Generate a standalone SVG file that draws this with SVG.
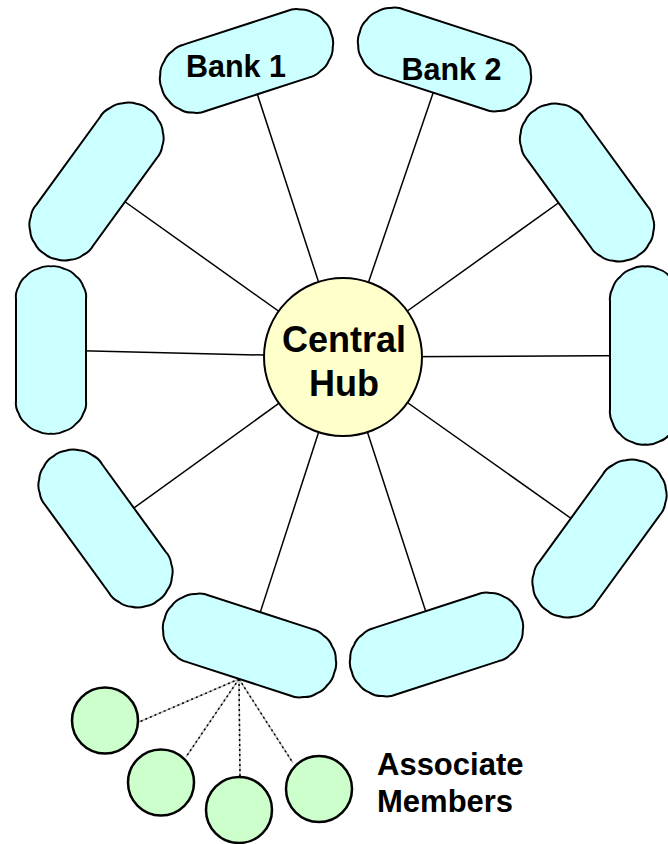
<svg xmlns="http://www.w3.org/2000/svg" xmlns:xlink="http://www.w3.org/1999/xlink" width="668" height="844" viewBox="0 0 668 844">
<style>
.cap{fill:#CCFFFF;stroke:#000;stroke-width:2}
.spoke{stroke:#000;stroke-width:1.5;fill:none}
.hub{fill:#FFFFCC;stroke:#000;stroke-width:2}
.mem{fill:#CCFFCC;stroke:#000;stroke-width:2.5}
.dotg{stroke:#bbb;stroke-width:1.5;fill:none}
.dotb{stroke:#000;stroke-width:1.5;fill:none;stroke-dasharray:2 3}
.lbl{font-family:"Liberation Sans",Arial,sans-serif;font-weight:bold;fill:#000}
</style>
<defs>
<path id="cap" d="M -54,-35 L 54,-35 A 22 22 0 0 1 67.39,-32.34 A 22 22 0 0 1 78.75,-24.75 A 22 22 0 0 1 86.34,-13.39 A 22 22 0 0 1 89,0 A 22 22 0 0 1 86.34,13.39 A 22 22 0 0 1 78.75,24.75 A 22 22 0 0 1 67.39,32.34 A 22 22 0 0 1 54,35 L -54,35 A 22 22 0 0 1 -67.39,32.34 A 22 22 0 0 1 -78.75,24.75 A 22 22 0 0 1 -86.34,13.39 A 22 22 0 0 1 -89,0 A 22 22 0 0 1 -86.34,-13.39 A 22 22 0 0 1 -78.75,-24.75 A 22 22 0 0 1 -67.39,-32.34 A 22 22 0 0 1 -54,-35 Z"/>
</defs>
<g id="connectors">
<line class="spoke" x1="343" y1="357" x2="246.5" y2="61"/>
<line class="spoke" x1="343" y1="357" x2="444.5" y2="59.5"/>
<line class="spoke" x1="343" y1="357" x2="587" y2="182.5"/>
<line class="spoke" x1="343" y1="357" x2="645" y2="355.5"/>
<line class="spoke" x1="343" y1="357" x2="599.5" y2="538.5"/>
<line class="spoke" x1="343" y1="357" x2="436.5" y2="644.5"/>
<line class="spoke" x1="343" y1="357" x2="249.5" y2="645.5"/>
<line class="spoke" x1="343" y1="357" x2="105.5" y2="528.5"/>
<line class="spoke" x1="343" y1="357" x2="51" y2="350"/>
<line class="spoke" x1="343" y1="357" x2="96.5" y2="181.5"/>
<g id="member-links">
<line class="dotg" x1="239" y1="679" x2="139" y2="722"/>
<line class="dotg" x1="239" y1="679" x2="186" y2="757"/>
<line class="dotg" x1="239" y1="679" x2="240" y2="777"/>
<line class="dotg" x1="239" y1="679" x2="293" y2="763"/>
<line class="dotb" x1="239" y1="679" x2="139" y2="722"/>
<line class="dotb" x1="239" y1="679" x2="186" y2="757"/>
<line class="dotb" x1="239" y1="679" x2="240" y2="777"/>
<line class="dotb" x1="239" y1="679" x2="293" y2="763"/>
</g>
</g>
<g id="bank1"><use xlink:href="#cap" href="#cap" class="cap" transform="translate(246.5,61) rotate(-18)"/><text class="lbl" x="186" y="77" font-size="30.5">Bank 1</text></g>
<g id="bank2"><use xlink:href="#cap" href="#cap" class="cap" transform="translate(444.5,59.5) rotate(18)"/><text class="lbl" x="401.5" y="80" font-size="30.5">Bank 2</text></g>
<g id="bank3"><use xlink:href="#cap" href="#cap" class="cap" transform="translate(587,182.5) rotate(54)"/></g>
<g id="bank4"><use xlink:href="#cap" href="#cap" class="cap" transform="translate(645,355.5) rotate(90)"/></g>
<g id="bank5"><use xlink:href="#cap" href="#cap" class="cap" transform="translate(599.5,538.5) rotate(-54)"/></g>
<g id="bank6"><use xlink:href="#cap" href="#cap" class="cap" transform="translate(436.5,644.5) rotate(-18)"/></g>
<g id="bank7"><use xlink:href="#cap" href="#cap" class="cap" transform="translate(249.5,645.5) rotate(18)"/></g>
<g id="bank8"><use xlink:href="#cap" href="#cap" class="cap" transform="translate(105.5,528.5) rotate(54)"/></g>
<g id="bank9"><use xlink:href="#cap" href="#cap" class="cap" transform="translate(51,350) rotate(90) scale(0.94,1)"/></g>
<g id="bank10"><use xlink:href="#cap" href="#cap" class="cap" transform="translate(96.5,181.5) rotate(-54)"/></g>
<g id="hub"><circle class="hub" cx="343" cy="357" r="79"/><text class="lbl" x="344" y="352" font-size="36" text-anchor="middle">Central</text><text class="lbl" x="344" y="396" font-size="36" text-anchor="middle">Hub</text></g>
<g id="member1"><circle class="mem" cx="105" cy="720.5" r="33"/></g>
<g id="member2"><circle class="mem" cx="161" cy="782.5" r="33"/></g>
<g id="member3"><circle class="mem" cx="239" cy="810" r="33"/></g>
<g id="member4"><circle class="mem" cx="319" cy="789" r="33"/></g>
<g id="associate-label"><text class="lbl" x="377" y="775" font-size="31">Associate</text><text class="lbl" x="377" y="812" font-size="31">Members</text></g>
</svg>
